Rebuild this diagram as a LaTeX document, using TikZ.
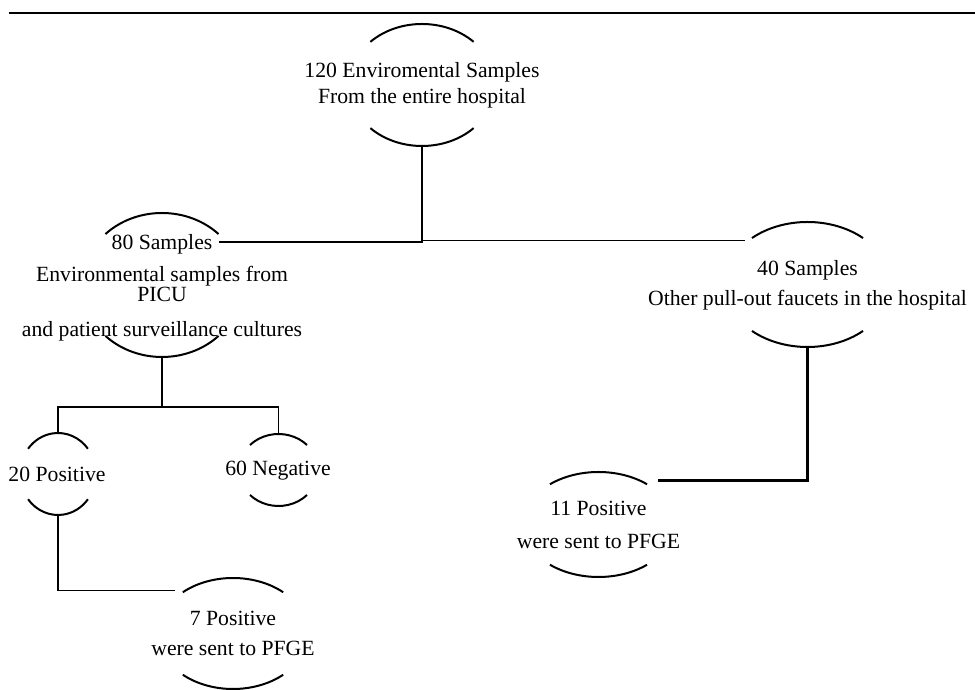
\documentclass[tikz,border=0pt]{standalone}
\usepackage{fontspec}
\setmainfont{Liberation Serif}
\usetikzlibrary{shapes.geometric}

\tikzset{
	capframe/.style={ellipse, inner sep=0pt, outer sep=0pt},
	caparc/.style={line width=2pt},
	txt/.style={align=center, inner sep=0pt, font=\fontsize{21.7}{26}\selectfont},
	link/.style={line width=1.3pt},
	thicklink/.style={line width=2.4pt}
}
% two arcs above and below a frame: name, x radius, y radius, angle
\newcommand{\ovalcaps}[4]{%
	\draw[caparc] ([shift={(#4:#2pt and #3pt)}]#1.center) arc[start angle=#4, end angle=180-#4, x radius=#2pt, y radius=#3pt];
	\draw[caparc] ([shift={(180+#4:#2pt and #3pt)}]#1.center) arc[start angle=180+#4, end angle=360-#4, x radius=#2pt, y radius=#3pt];
}

\begin{document}
\begin{tikzpicture}[x=1pt, y=1pt]
		\useasboundingbox (0,0) rectangle (975,690);
		\draw[line width=2pt] (9,677) -- (975,677);

		% All samples
		\node[capframe, minimum width=146pt, minimum height=122pt] (env) at (422,605) {};
		\node[txt] (envtxt) at (env.center) {120 Enviromental Samples\\From the entire hospital};
		\ovalcaps{env}{73}{61}{45}

		% PICU
		\node[capframe, minimum width=160pt, minimum height=144pt] (eighty) at (162,405) {};
		\node[txt] (eightytxt) at (162,402) {80 Samples\\[6pt]Environmental samples from\\[-6pt]PICU\\[9pt]and patient surveillance cultures};
		\ovalcaps{eighty}{80}{72}{45}

		% Other faucets
		\node[capframe, minimum width=166pt, minimum height=125pt] (forty) at (807.5,405.5) {};
		\node[txt] (fortytxt) at (807.5,405) {40 Samples\\[4pt]Other pull-out faucets in the hospital};
		\ovalcaps{forty}{83}{62.5}{48}

		% PICU results
		\node[capframe, minimum width=76pt, minimum height=82pt] (pos20) at (58,216) {};
		\node[txt] (pos20txt) at (57,216) {20 Positive};
		\ovalcaps{pos20}{38}{41}{38}

		\node[capframe, minimum width=79pt, minimum height=72pt] (neg60) at (278.5,220) {};
		\node[txt] (neg60txt) at (278,219) {60 Negative};
		\ovalcaps{neg60}{39.6}{36}{44}

		\node[capframe, minimum width=150pt, minimum height=111pt] (pos7) at (233,56.5) {};
		\node[txt] (pos7txt) at (233,57) {7 Positive\\[4pt]were sent to PFGE};
		\ovalcaps{pos7}{75}{55.5}{48}

		% Faucet results
		\node[capframe, minimum width=151pt, minimum height=105pt] (pos11) at (598.5,165.5) {};
		\node[txt] (pos11txt) at (598.5,165) {11 Positive\\[7pt]were sent to PFGE};
		\ovalcaps{pos11}{75.5}{52.5}{50}

		% Connectors
		\draw[link] (env.south) |- ([yshift=-8pt]eighty.north east);
		\draw[link] (env.south) |- ([xshift=-4pt]forty.north west);
		\draw[link] (eighty.south) -- ++(0,-50) coordinate (split);
		\draw[link] (pos20.north) |- (split) -| (neg60.north);
		\draw[link] (pos20.south) |- ([shift={(-5pt,4pt)}]pos7.north west);
		\draw[thicklink] (forty.south) |- ([shift={(6pt,7pt)}]pos11.north east);
\end{tikzpicture}
\end{document}
